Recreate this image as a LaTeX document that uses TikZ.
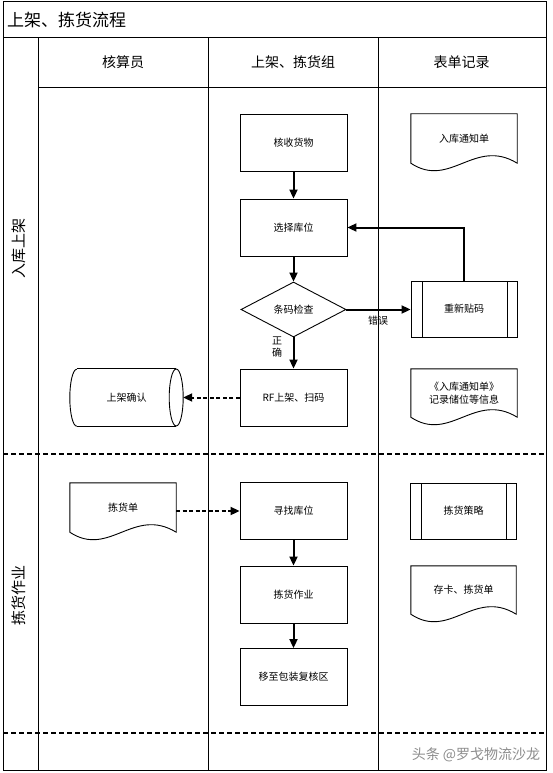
\documentclass[tikz,border=0pt]{standalone}
\usepackage{fontspec}
\setmainfont{Noto Sans CJK SC}
\usetikzlibrary{arrows.meta,shapes.geometric,calc}
\newcommand\docpath[1]{\draw[boxline] (#1.north west) -- (#1.north east) -- (#1.south east)
  .. controls ($(#1.south west)!0.6!(#1.south east)+(0,-26)$) and ($(#1.south west)!0.37!(#1.south east)+(0,26)$) .. (#1.south west) -- cycle;}
\begin{document}
\begin{tikzpicture}[x=1pt,y=-1pt,
  frame/.style={line width=1pt},
  sep/.style={line width=2pt, dash pattern=on 5pt off 3pt},
  boxline/.style={line width=0.9pt},
  small/.style={font=\fontsize{10}{12.5}\selectfont},
  proc/.style={draw, boxline, small, minimum width=107pt, minimum height=57pt, inner sep=0pt},
  docbox/.style={small, minimum width=106pt, inner sep=0pt, align=center},
  predef/.style={draw, boxline, small, minimum width=106pt, minimum height=56pt, inner sep=0pt,
    path picture={\draw[line width=0.8pt] ([xshift=11pt]path picture bounding box.north west) -- ([xshift=11pt]path picture bounding box.south west);
      \draw[line width=0.8pt] ([xshift=-10pt]path picture bounding box.north east) -- ([xshift=-10pt]path picture bounding box.south east);}},
  decision/.style={draw, boxline, small, diamond, aspect=1.9, minimum width=105pt, minimum height=55pt, inner sep=0pt},
  header/.style={font=\fontsize{14}{16}\selectfont},
  lanelabel/.style={font=\fontsize{15}{17}\selectfont, rotate=90},
  arr/.style={line width=2pt, -{Triangle[length=9pt,width=8pt]}},
  darr/.style={line width=2pt, dash pattern=on 4pt off 2.5pt, -{Triangle[length=9pt,width=8pt]}},
  lbl/.style={small, inner sep=0pt, align=center}
]
\useasboundingbox (0,0) rectangle (552,773);
% frame
\draw[frame] (3,2) rectangle (546,770);
\draw[frame] (3,38) -- (546,38);
\draw[frame] (38,38) -- (38,770);
\draw[frame] (208,38) -- (208,770);
\draw[frame] (378,38) -- (378,770);
\draw[frame] (38,88) -- (546,88);
\draw[sep] (3,454) -- (546,454);
\draw[sep] (3,733) -- (546,733);
% titles
\node[anchor=west, font=\fontsize{17}{19}\selectfont, inner sep=0pt] (title) at (7,20) {上架、拣货流程};
\node[header] (h1) at (123,62) {核算员};
\node[header] (h2) at (293,62) {上架、拣货组};
\node[header] (h3) at (461.5,62) {表单记录};
\node[lanelabel] (lane1) at (19,248) {入库上架};
\node[lanelabel] (lane2) at (19,595) {拣货作业};
% lane 1
\node[proc] (receive) at (293.5,142.5) {核收货物};
\node[proc] (select) at (293.5,227.5) {选择库位};
\node[decision] (check) at (293.5,309.5) {条码检查};
\node[proc] (rf) at (293.5,397.5) {RF上架、扫码};
\node[predef] (recode) at (464,309) {重新贴码};
\node[docbox, minimum height=49pt] (notice) at (464,138.5) {入库通知单};
\docpath{notice}
\node[docbox, minimum height=48pt] (record) at (464,393) {《入库通知单》\\记录储位等信息};
\docpath{record}
\node[small, minimum width=113pt, minimum height=57pt, inner sep=0pt] (confirm) at (126.5,397.5) {上架确认};
\draw[boxline] ([xshift=7pt]confirm.north west) -- ([xshift=-7pt]confirm.north east);
\draw[boxline] ([xshift=7pt]confirm.south west) -- ([xshift=-7pt]confirm.south east);
\draw[boxline] ([xshift=-7pt]confirm.east) ellipse [x radius=7pt, y radius=28.5pt];
\draw[boxline] ([xshift=7pt]confirm.south west) arc[start angle=270, end angle=90, x radius=7pt, y radius=28.5pt];
% lane 2
\node[docbox, minimum height=49pt] (pick) at (123,507.5) {拣货单};
\docpath{pick}
\node[proc] (find) at (293.5,511) {寻找库位};
\node[proc] (work) at (293.5,594.5) {拣货作业};
\node[proc] (move) at (293.5,677) {移至包装复核区};
\node[predef] (strategy) at (463.5,511) {拣货策略};
\node[docbox, minimum height=48pt, minimum width=105pt] (card) at (463.5,590) {存卡、拣货单};
\docpath{card}
% connectors
\draw[arr] (receive) -- (select);
\draw[arr] (select) -- (check);
\draw[arr] (check) -- (rf);
\draw[arr] (check.east) -- (check.east -| recode.west);
\draw[arr] (recode.north) |- (select.east);
\draw[darr] (rf.west) -- (confirm.east);
\draw[darr] (pick.east |- find.west) -- (find.west);
\draw[arr] (find) -- (work);
\draw[arr] (work) -- (move);
\node[lbl] (err) at (378,321) {错误};
\node[lbl] (ok) at (277,347) {正\\确};
% watermark
\node[font=\fontsize{14}{16}\selectfont, text=black!45] (wm) at (476,755) {头条 @罗戈物流沙龙};
\end{tikzpicture}
\end{document}
